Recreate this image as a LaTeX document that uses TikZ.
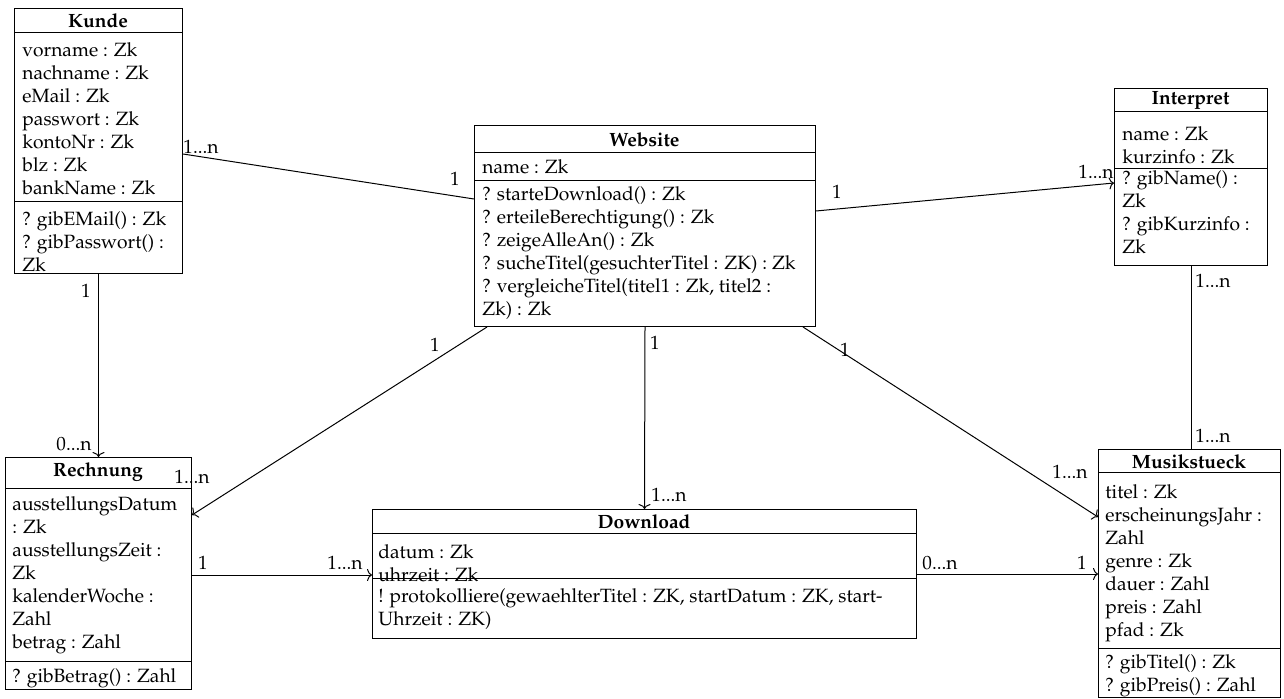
\documentclass[tikz,border=0pt]{standalone}
\usepackage[T1]{fontenc}
\usepackage{mathpazo}
\usetikzlibrary{arrows.meta,calc}
\newcommand{\umlrows}[1]{\begin{tabular}[t]{@{}l@{}}#1\end{tabular}}
\begin{document}
\begin{tikzpicture}[x=0.5pt,y=-0.5pt,
  every node/.style={font=\fontsize{9.6}{11.5}\selectfont},
  box/.style={draw, line width=0.5pt, inner sep=0pt, anchor=north west},
  ttl/.style={font=\fontsize{9.6}{11.5}\selectfont\bfseries, inner sep=0pt},
  txt/.style={anchor=base west, inner sep=0pt},
  sepline/.style={line width=0.5pt},
  conn/.style={line width=0.5pt},
  arr/.style={conn, -{To[length=2.5pt,width=6pt]}},
  lbl/.style={inner sep=0pt}
]
\useasboundingbox (0,0) rectangle (1284,699);

% ---------------- Kunde
\node[box, minimum width=84pt, minimum height=132.5pt] (kunde) at (14,8) {};
\draw[sepline] (14,33) -- (182,33);
\draw[sepline] (14,202) -- (182,202);
\node[ttl] (kundeT) at (98,21) {Kunde};
\node[txt] (kundeA) at (22,57) {\umlrows{vorname : Zk\\nachname : Zk\\eMail : Zk\\passwort : Zk\\kontoNr : Zk\\blz : Zk\\bankName : Zk}};
\node[txt] (kundeM) at (22,226) {\umlrows{? gibEMail() : Zk\\? gibPasswort() :\\Zk}};

% ---------------- Website
\node[box, minimum width=170.5pt, minimum height=100.5pt] (website) at (474,125) {};
\draw[sepline] (474,153) -- (815,153);
\draw[sepline] (474,181) -- (815,181);
\node[ttl] (websiteT) at (644.5,140) {Website};
\node[txt] (websiteA) at (482,174) {\umlrows{name : Zk}};
\node[txt] (websiteM) at (482,201) {\umlrows{? starteDownload() : Zk\\? erteileBerechtigung() : Zk\\? zeigeAlleAn() : Zk\\? sucheTitel(gesuchterTitel : ZK) : Zk\\? vergleicheTitel(titel1 : Zk, titel2 :\\Zk) : Zk}};

% ---------------- Interpret
\node[box, minimum width=76.5pt, minimum height=88.5pt] (interpret) at (1114,88) {};
\draw[sepline] (1114,112) -- (1267,112);
\draw[sepline] (1114,169) -- (1267,169);
\node[ttl] (interpretT) at (1190.5,101) {Interpret};
\node[txt] (interpretA) at (1122,141) {\umlrows{name : Zk\\kurzinfo : Zk}};
\node[txt] (interpretM) at (1122,185) {\umlrows{? gibName() :\\Zk\\? gibKurzinfo :\\Zk}};

% ---------------- Rechnung
\node[box, minimum width=93pt, minimum height=116pt] (rechnung) at (5,457) {};
\draw[sepline] (5,489) -- (191,489);
\draw[sepline] (5,661) -- (191,661);
\node[ttl] (rechnungT) at (98,472) {Rechnung};
\node[txt] (rechnungA) at (12,510) {\umlrows{ausstellungsDatum\\: Zk\\ausstellungsZeit :\\Zk\\kalenderWoche :\\Zahl\\betrag : Zahl}};
\node[txt] (rechnungM) at (12,682) {\umlrows{? gibBetrag() : Zahl}};

% ---------------- Download
\node[box, minimum width=272pt, minimum height=64.5pt] (download) at (372,509) {};
\draw[sepline] (372,533) -- (916,533);
\draw[sepline] (372,578) -- (916,578);
\node[ttl] (downloadT) at (644,522) {Download};
\node[txt] (downloadA) at (378,559) {\umlrows{datum : Zk\\uhrzeit : Zk}};
\node[txt] (downloadM) at (378,602) {\umlrows{! protokolliere(gewaehlterTitel : ZK, startDatum : ZK, start-\\Uhrzeit : ZK)}};

% ---------------- Musikstueck
\node[box, minimum width=91pt, minimum height=124pt] (musik) at (1098,449) {};
\draw[sepline] (1098,473) -- (1280,473);
\draw[sepline] (1098,648) -- (1280,648);
\node[ttl] (musikT) at (1189,462) {Musikstueck};
\node[txt] (musikA) at (1105,499) {\umlrows{titel : Zk\\erscheinungsJahr :\\Zahl\\genre : Zk\\dauer : Zahl\\preis : Zahl\\pfad : Zk}};
\node[txt] (musikM) at (1105,668) {\umlrows{? gibTitel() : Zk\\? gibPreis() : Zahl}};

% ---------------- connectors
\draw[conn] ($(kunde.north east)+(0,146)$) -- ($(website.north west)+(0,74)$);
\draw[arr] ($(website.north east)+(0,86)$) -- ($(interpret.north west)+(0,95)$);
\draw[arr] (kunde.south) -- (rechnung.north);
\draw[arr] ($(website.south west)+(13,0)$) -- ($(rechnung.north east)+(0,58)$);
\draw[arr] (website.south) -- (download.north);
\draw[arr] ($(website.south east)+(-13,0)$) -- ($(musik.north west)+(0,68)$);
\draw[conn] (interpret.south) -- (interpret.south |- musik.north);
\coordinate (rd) at ($(rechnung.north east)+(0,118)$);
\draw[arr] (rd) -- (rd -| download.west);
\draw[arr] (download.east) -- (download.east -| musik.west);

% ---------------- multiplicities
\node[lbl] at (201,147) {1...n};
\node[lbl] at (455,179) {1};
\node[lbl] at (837,192) {1};
\node[lbl] at (1096,172) {1...n};
\node[lbl] at (86,291) {1};
\node[lbl] at (74,444) {0...n};
\node[lbl] at (435,345) {1};
\node[lbl] at (192,477) {1...n};
\node[lbl] at (655,343) {1};
\node[lbl] at (669,495) {1...n};
\node[lbl] at (845,350) {1};
\node[lbl] at (1070,472) {1...n};
\node[lbl] at (1213,281) {1...n};
\node[lbl] at (1213,436) {1...n};
\node[lbl] at (203,563) {1};
\node[lbl] at (345,563) {1...n};
\node[lbl] at (940,563) {0...n};
\node[lbl] at (1082,563) {1};
\end{tikzpicture}
\end{document}
